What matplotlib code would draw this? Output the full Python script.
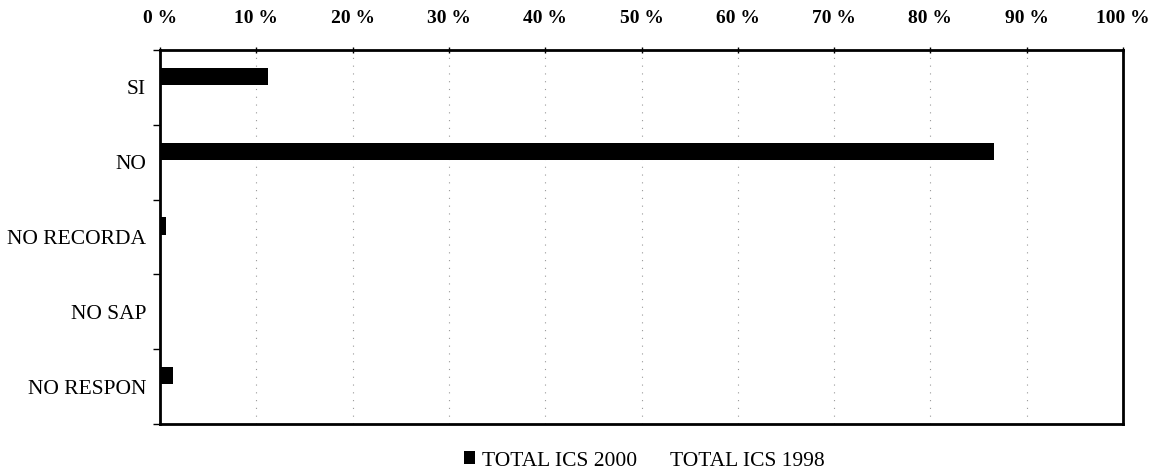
import matplotlib
matplotlib.use("Agg")
import matplotlib.pyplot as plt
import numpy as np
from matplotlib.ticker import FixedLocator

categories = ["SI", "NO", "NO RECORDA", "NO SAP", "NO RESPON"]
total_2000 = [11.2, 86.6, 0.6, 0.0, 1.4]
total_1998 = [0.0, 0.0, 0.0, 0.0, 0.0]
series_names = ["TOTAL ICS 2000", "TOTAL ICS 1998"]
xticks = list(range(0, 101, 10))
xtick_labels = [f"{v} %" for v in xticks]

plt.rcParams['font.family'] = ['Liberation Serif', 'DejaVu Serif']

fig = plt.figure(figsize=(11.59, 4.73), dpi=100)
ax = fig.add_axes([160 / 1159, 1 - 424 / 473, (1123 - 160) / 1159, (424 - 50) / 473])

y = np.arange(len(categories))
h = 0.23
ax.barh(y - 0.147, total_2000, height=h, color="black", label=series_names[0], zorder=3)
ax.barh(y + 0.147, total_1998, height=h, color="white", label=series_names[1], zorder=3)

ax.set_xlim(0, 100)
ax.set_ylim(len(categories) - 0.5, -0.5)
ax.xaxis.tick_top()
ax.set_xticks(xticks)
ax.set_xticklabels(xtick_labels, fontsize=14, fontweight="bold")
ax.tick_params(axis="x", length=5, width=1, pad=14, direction="inout")
ax.set_yticks(y)
ax.set_yticklabels(categories, fontsize=15.5)
ax.tick_params(axis="y", which="major", length=0, pad=10)
ax.yaxis.set_minor_locator(FixedLocator(np.arange(-0.5, len(categories), 1.0)))
ax.tick_params(axis="y", which="minor", length=5, width=1)

ax.grid(axis="x", linestyle=(0, (1, 6)), color="#999999", linewidth=0.8, zorder=0)
for s in ax.spines.values():
    s.set_linewidth(2)
    s.set_color("black")

handles, labels = ax.get_legend_handles_labels()
fig.legend(handles, labels, loc="center", bbox_to_anchor=(0.556, 1 - 461 / 473), ncol=2,
           frameon=False, fontsize=15.5, handlelength=0.55, handleheight=0.55,
           handletextpad=0.3, columnspacing=0.7)

fig.savefig("out.png", dpi=100)
